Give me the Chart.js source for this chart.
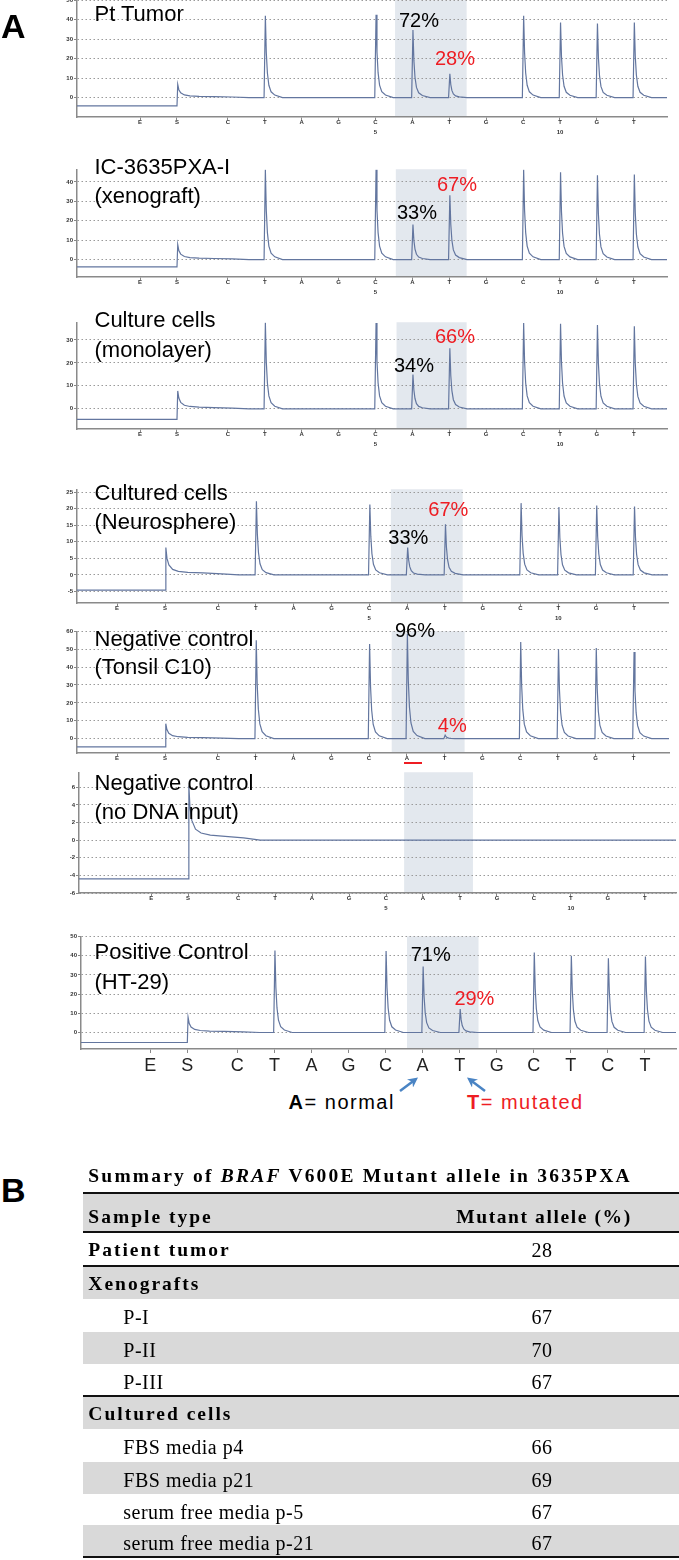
<!DOCTYPE html>
<html>
<head>
<meta charset="utf-8">
<script src="https://cdn.jsdelivr.net/npm/chart.js@4/dist/chart.umd.min.js"></script>
<style>
    html, body { margin: 0; padding: 0; background: #fff; }
    #page { position: relative; width: 679px; height: 1560px; overflow: hidden; font-family: "Liberation Sans", Arial, sans-serif; }
    .pan { position: absolute; left: 0; }
    .t { position: absolute; white-space: nowrap; line-height: 1; color: #000; }
    .band { position: absolute; left: 83px; width: 596px; }
</style>
</head>
<body>
<div id="page"></div>
<script>
// --- Data ---
const dispensation = ['E', 'S', 'C', 'T', 'A', 'G', 'C', 'A', 'T', 'G', 'C', 'T', 'G', 'T'];
const bigLetters = ['E', 'S', 'C', 'T', 'A', 'G', 'C', 'A', 'T', 'G', 'C', 'T', 'C', 'T'];

// dispensation times (first C = 0), one list per run layout
const dispTimeA = [-2.38, -1.38, 0, 1, 2, 3, 4, 5, 6, 7, 8, 9, 10, 11];
const dispTimeB = [-2.67, -1.40, 0, 1, 2, 3, 4, 5, 6, 7, 8, 9, 10, 11];
const dispTimeC = [-2.35, -1.35, 0, 1, 2, 3, 4, 5, 6, 7, 8, 9, 10, 11];

// peak heights per dispensation
const peaksPtTumor    = [0, 0, 0, 42.0, 0, 0, 42.6, 34.7, 12.2, 0, 42.0, 38.6, 38.0, 38.6];
const peaksXenograft  = [0, 0, 0, 46.2, 0, 0, 46.2, 18.0, 33.1, 0, 46.2, 45.0, 43.4, 43.8];
const peaksMonolayer  = [0, 0, 0, 37.5, 0, 0, 37.4, 14.9, 26.4, 0, 37.4, 37.0, 36.5, 36.0];
const peaksNeurosph   = [0, 0, 0, 22.3, 0, 0, 21.3, 8.3, 15.3, 0, 21.7, 20.5, 21.0, 20.7];
const peaksTonsil     = [0, 0, 0, 55.0, 0, 0, 52.9, 58.5, 2.0, 0, 54.0, 50.0, 50.7, 48.4];
const peaksNoDNA      = [0, 0, 0, 0, 0, 0, 0, 0, 0, 0, 0, 0, 0, 0];
const peaksHT29       = [0, 0, 0, 42.7, 0, 0, 42.5, 34.4, 12.2, 0, 41.7, 40.0, 38.7, 39.6];

// substrate step: baseline before S, and S peak
const substratePre  = [-4.3, -3.8, -4.6, -4.6, -4.6, -4.4, -5.2];
const substratePeak = [6.7, 7.7, 7.8, 8.3, 8.4, 6.2, 8.0];

// peak shape as seen on the traces (time offset, fraction of height)
const peakDx  = [-0.02, 0.015, 0.04, 0.07, 0.11, 0.17, 0.27, 0.48];
const peakRel = [0, 1, 0.55, 0.3, 0.15, 0.07, 0.03, 0];
const substrateDx  = [0.02, 0.05, 0.1, 0.2, 0.35, 0.6, 1.0, 1.5, 1.95];
const substrateRel = [1, 0.6, 0.36, 0.2, 0.13, 0.09, 0.07, 0.04, 0];

const yTicksPt   = [0, 10, 20, 30, 40, 50];
const yTicksXeno = [0, 10, 20, 30, 40];
const yTicksMono = [0, 10, 20, 30];
const yTicksNeur = [-5, 0, 5, 10, 15, 20, 25];
const yTicksTons = [0, 10, 20, 30, 40, 50, 60];
const yTicksNoDNA = [-6, -4, -2, 0, 2, 4, 6];
const yTicksHT29 = [0, 10, 20, 30, 40, 50];

const panelTitles = [
    ['Pt Tumor'],
    ['IC-3635PXA-I', '(xenograft)'],
    ['Culture cells', '(monolayer)'],
    ['Cultured cells', '(Neurosphere)'],
    ['Negative control', '(Tonsil C10)'],
    ['Negative control', '(no DNA input)'],
    ['Positive Control', '(HT-29)']
];
const pctNormal = [72, 33, 34, 33, 96, null, 71];
const pctMutant = [28, 67, 66, 67, 4, null, 29];

// summary table
const tableRows = ['Patient tumor', 'Xenografts', 'P-I', 'P-II', 'P-III', 'Cultured cells',
    'FBS media p4', 'FBS media p21', 'serum free media p-5', 'serum free media p-21'];
const mutantAllele = [28, null, 67, 70, 67, null, 66, 69, 67, 67];
const isGroupRow = [true, true, false, false, false, true, false, false, false, false];

// --- Layout ---
const W = 679;
const PAD_T = 6;
const TRACE = '#63769f';
const SHADE = '#e3e8ee';
const RED = '#ee1d23';

const panels = [
    { top: 0,   bottom: 117, yMin: -10, yMax: 50,   yTicks: yTicksPt,   left: 77, right: 667, xMin: -4.09, xMax: 11.9,  disp: dispTimeA, peaks: peaksPtTumor,   axisH: 22, numbers: true,  shade: [4.53, 6.47],
      titleBase: [21.7], normalPos: [419, 26.7], mutantPos: [455, 65] },
    { top: 169, bottom: 277, yMin: -9,  yMax: 46.5, yTicks: yTicksXeno, left: 77, right: 667, xMin: -4.09, xMax: 11.9,  disp: dispTimeA, peaks: peaksXenograft, axisH: 22, numbers: true,  shade: [4.55, 6.47],
      titleBase: [175, 204], normalPos: [417, 219.3], mutantPos: [457, 190.7] },
    { top: 322, bottom: 429, yMin: -8.8, yMax: 37.7, yTicks: yTicksMono, left: 77, right: 667, xMin: -4.09, xMax: 11.9, disp: dispTimeA, peaks: peaksMonolayer, axisH: 22, numbers: true,  shade: [4.57, 6.47],
      titleBase: [327.3, 357.7], normalPos: [414, 372.3], mutantPos: [455, 343.3] },
    { top: 489, bottom: 603, yMin: -8.5, yMax: 25.9, yTicks: yTicksNeur, left: 77, right: 668, xMin: -3.73, xMax: 11.9, disp: dispTimeB, peaks: peaksNeurosph,  axisH: 22, numbers: true,  shade: [4.57, 6.47],
      titleBase: [500.7, 529.3], normalPos: [408.3, 544.3], mutantPos: [448.3, 515.7] },
    { top: 631, bottom: 753, yMin: -8,  yMax: 60,   yTicks: yTicksTons, left: 77, right: 669, xMin: -3.73, xMax: 11.94, disp: dispTimeB, peaks: peaksTonsil,    axisH: 12, numbers: false, shade: [4.6, 6.53],
      titleBase: [646.7, 675], normalPos: [415, 636.7], mutantPos: [452.3, 731.7] },
    { top: 772, bottom: 893, yMin: -6,  yMax: 7.7,  yTicks: yTicksNoDNA, left: 79, right: 676, xMin: -4.30, xMax: 11.84, disp: dispTimeC, peaks: peaksNoDNA,    axisH: 22, numbers: true,  shade: [4.49, 6.35],
      titleBase: [790.7, 820], normalPos: null, mutantPos: null },
    { top: 936, bottom: 1049, yMin: -8.6, yMax: 50.2, yTicks: yTicksHT29, left: 81, right: 676, xMin: -4.22, xMax: 11.84, disp: dispTimeC, peaks: peaksHT29,    axisH: 30, numbers: false, big: true, shade: [4.58, 6.51],
      titleBase: [960, 990], normalPos: [430.7, 961], mutantPos: [474.4, 1005] }
];

const page = document.getElementById('page');

function addText(html, x, base, o) {
    o = o || {};
    const fs = o.size || 20;
    const el = document.createElement('div');
    el.className = 't';
    el.innerHTML = html;
    el.style.fontSize = fs + 'px';
    el.style.fontFamily = o.serif ? '"Liberation Serif", "Times New Roman", serif' : '"Liberation Sans", Arial, sans-serif';
    el.style.top = (base - fs * (o.serif ? 0.8375 : 0.8465)) + 'px';
    el.style.left = x + 'px';
    if (o.bold) el.style.fontWeight = 'bold';
    if (o.color) el.style.color = o.color;
    if (o.ls) el.style.letterSpacing = o.ls + 'px';
    if (o.center) el.style.transform = 'translateX(-50%)';
    page.appendChild(el);
    return el;
}

// trace built from the read peak heights and the peak shape
function buildTrace(pos, peaks, pre, sPeak, xMin, xMax) {
    const pts = [{ x: xMin, y: pre }, { x: pos[1], y: pre }];
    substrateDx.forEach((d, i) => pts.push({ x: pos[1] + d, y: sPeak * substrateRel[i] }));
    peaks.forEach((h, i) => {
        if (h <= 0) return;
        peakDx.forEach((d, j) => pts.push({ x: pos[i] + d, y: h * peakRel[j] }));
    });
    pts.push({ x: xMax, y: 0 });
    return pts;
}

const shadePlugin = range => ({
    id: 'shade',
    beforeDraw(chart) {
        const { ctx, chartArea: a, scales: { x } } = chart;
        const x0 = x.getPixelForValue(range[0]);
        const x1 = x.getPixelForValue(range[1]);
        ctx.save();
        ctx.fillStyle = SHADE;
        ctx.fillRect(x0, a.top, x1 - x0, a.bottom - a.top);
        ctx.restore();
    }
});

const smallFont = { family: '"Liberation Sans", Arial, sans-serif', size: 6, weight: 'bold', lineHeight: 1.75 };

panels.forEach((p, k) => {
    const h = PAD_T + (p.bottom - p.top) + p.axisH;
    const wrap = document.createElement('div');
    wrap.className = 'pan';
    wrap.style.top = (p.top - PAD_T) + 'px';
    wrap.style.width = W + 'px';
    wrap.style.height = h + 'px';
    const cv = document.createElement('canvas');
    cv.width = W;
    cv.height = h;
    wrap.appendChild(cv);
    page.appendChild(wrap);

    const letters = p.big ? bigLetters : dispensation;

    new Chart(cv, {
        type: 'line',
        data: {
            datasets: [{
                data: buildTrace(p.disp, p.peaks, substratePre[k], substratePeak[k], p.xMin, p.xMax),
                borderColor: TRACE,
                borderWidth: 1.2,
                pointRadius: 0,
                tension: 0,
                fill: false
            }]
        },
        options: {
            responsive: false,
            animation: false,
            events: [],
            layout: { padding: { top: PAD_T, right: W - p.right, left: 0, bottom: 0 } },
            plugins: { legend: { display: false }, tooltip: { enabled: false } },
            scales: {
                x: {
                    type: 'linear',
                    min: p.xMin,
                    max: p.xMax,
                    afterBuildTicks: s => { s.ticks = p.disp.map(v => ({ value: v })); },
                    afterFit: s => { s.height = p.axisH; },
                    grid: { drawOnChartArea: false, drawTicks: true, tickLength: p.big ? 4 : 3, tickColor: '#888', tickWidth: 1 },
                    border: { color: '#8a8a8a', width: 1.5 },
                    ticks: {
                        autoSkip: false,
                        maxRotation: 0,
                        padding: p.big ? 2.5 : -3,
                        color: p.big ? '#222' : '#333',
                        font: p.big ? { family: '"Liberation Sans", Arial, sans-serif', size: 18, lineHeight: 1.2 } : smallFont,
                        callback: (v, i) => {
                            const l = letters[i];
                            if (p.numbers && i === 6) return [l, '5'];
                            if (p.numbers && i === 11) return [l, '10'];
                            return l;
                        }
                    }
                },
                y: {
                    min: p.yMin,
                    max: p.yMax,
                    afterBuildTicks: s => { s.ticks = p.yTicks.map(v => ({ value: v })); },
                    afterFit: s => { s.width = p.left; },
                    grid: { color: '#9a9a9a', lineWidth: 1, drawTicks: true, tickLength: 3, tickColor: '#888', tickWidth: 1, tickBorderDash: [] },
                    border: { color: '#8a8a8a', width: 1.5, dash: [1.5, 2.5] },
                    ticks: { padding: 1, color: '#333', font: smallFont }
                }
            }
        },
        plugins: [shadePlugin(p.shade)]
    });

    // panel titles
    panelTitles[k].forEach((line, j) => addText(line, 94.5, p.titleBase[j], { size: 22 }));
    if (p.normalPos) addText(pctNormal[k] + '%', p.normalPos[0], p.normalPos[1], { size: 20, center: true });
    if (p.mutantPos) addText(pctMutant[k] + '%', p.mutantPos[0], p.mutantPos[1], { size: 20, center: true, color: RED });
});

// red mark under A of the tonsil control
const redMark = document.createElement('div');
redMark.style.cssText = `position:absolute;left:404px;top:762px;width:18px;height:2px;background:${RED};`;
page.appendChild(redMark);

// panel letters
addText('A', 1, 37.7, { size: 34, bold: true });
addText('B', 1, 1202, { size: 34, bold: true });

// allele legend under the bottom pyrogram
addText('<b>A</b>= normal', 288.6, 1109, { size: 20, ls: 1.5 });
addText('<b>T</b>= mutated', 467, 1109, { size: 20, ls: 1.5, color: RED });

const svgNS = 'http://www.w3.org/2000/svg';
const svg = document.createElementNS(svgNS, 'svg');
svg.setAttribute('width', W);
svg.setAttribute('height', 1560);
svg.style.cssText = 'position:absolute;left:0;top:0;pointer-events:none;';
svg.innerHTML = `
  <defs><marker id="ah" markerUnits="userSpaceOnUse" markerWidth="10" markerHeight="10" refX="5" refY="5" orient="auto">
    <path d="M0,0 L10,5 L0,10 L3,5 z" fill="#4a84c4"/></marker></defs>
  <line x1="400" y1="1091" x2="414" y2="1080.5" stroke="#4a84c4" stroke-width="2.5" marker-end="url(#ah)"/>
  <line x1="485" y1="1091" x2="471" y2="1080.5" stroke="#4a84c4" stroke-width="2.5" marker-end="url(#ah)"/>`;
page.appendChild(svg);

// --- Summary table ---
const rowTop = [1232, 1266, 1299, 1332, 1364, 1396, 1429, 1462, 1494, 1525, 1557];
function band(top, height, color) {
    const d = document.createElement('div');
    d.className = 'band';
    d.style.top = top + 'px';
    d.style.height = height + 'px';
    d.style.background = color;
    page.appendChild(d);
}
band(1193, 39, '#d9d9d9');
tableRows.forEach((r, i) => { if (i % 2 === 1) band(rowTop[i], rowTop[i + 1] - rowTop[i], '#d9d9d9'); });
[1192, 1231, 1265, 1395, 1556].forEach(y => band(y, 2, '#111'));

const serifBold = { serif: true, bold: true, size: 19.5, ls: 2.0 };
const serifReg = { serif: true, size: 20, ls: 0.5 };
addText('Summary of <i>BRAF</i> V600E Mutant allele in 3635PXA', 88.3, 1182, { serif: true, bold: true, size: 19.5, ls: 2.2 });
addText('Sample type', 88.3, 1223, serifBold);
addText('Mutant allele (%)', 544, 1223, Object.assign({}, serifBold, { ls: 1.6, center: true }));

tableRows.forEach((r, i) => {
    const base = rowTop[i] + 24.5;
    if (isGroupRow[i]) addText(r, 88.3, base, serifBold);
    else addText(r, 123.3, base, serifReg);
    if (mutantAllele[i] !== null) addText(String(mutantAllele[i]), 542, base, Object.assign({}, serifReg, { center: true }));
});
</script>
</body>
</html>
